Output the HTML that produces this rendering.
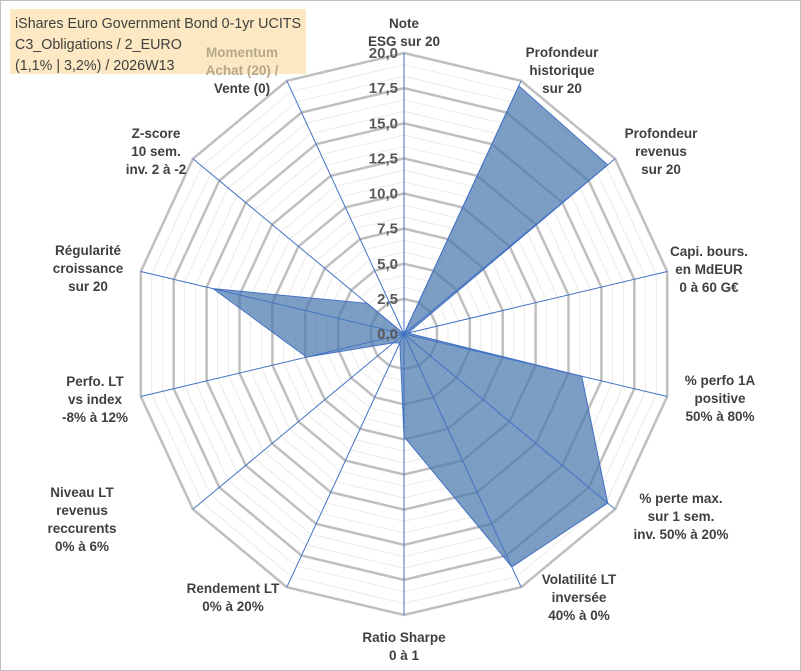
<!DOCTYPE html>
<html><head><meta charset="utf-8"><style>
html,body{margin:0;padding:0;background:#fff;}
#wrap{position:relative;width:801px;height:671px;overflow:hidden;}
svg text{font-family:"Liberation Sans",Arial,sans-serif;}
</style></head><body>
<div id="wrap">
<svg id="chart" width="801" height="671" viewBox="0 0 801 671">
<rect x="0.5" y="0.5" width="800" height="670" fill="#fff" stroke="#bfbfbf"/>
<rect x="10" y="9" width="296" height="65" fill="#fce9c3"/>
<g id="grid"></g>
<g id="series"></g>
<g id="ticks"></g>
<g font-size="14.3" fill="#404040">
<text x="15" y="28">iShares Euro Government Bond 0-1yr UCITS</text>
<text x="15" y="49">C3_Obligations / 2_EURO</text>
<text x="15" y="70">(1,1% | 3,2%) / 2026W13</text>
</g>
<g id="labels"></g>
</svg>
</div>
<script>
const categories = [
 ["Note","ESG sur 20"],
 ["Profondeur","historique","sur 20"],
 ["Profondeur","revenus","sur 20"],
 ["Capi. bours.","en MdEUR","0 à 60 G€"],
 ["% perfo 1A","positive","50% à 80%"],
 ["% perte max.","sur 1 sem.","inv. 50% à 20%"],
 ["Volatilité LT","inversée","40% à 0%"],
 ["Ratio Sharpe","0 à 1"],
 ["Rendement LT","0% à 20%"],
 ["Niveau LT","revenus","reccurents","0% à 6%"],
 ["Perfo. LT","vs index","-8% à 12%"],
 ["Régularité","croissance","sur 20"],
 ["Z-score","10 sem.","inv. 2 à -2"],
 ["Momentum","Achat (20) /","Vente (0)"]
];
const values = [0, 19.6, 19.3, 0.3, 13.5, 19.3, 18.4, 7.3, 0.7, 1.0, 7.4, 14.5, 3.5, 0];
const tickLabels = ["0,0","2,5","5,0","7,5","10,0","12,5","15,0","17,5","20,0"];
const tickValues = [0,2.5,5,7.5,10,12.5,15,17.5,20];
const maxV = 20;
const cx = 404, cy = 334, Rx = 270, Ry = 281;
// label anchor: center x, first baseline y
const labelX = [404,562,661,709,720,681,579,404,233,82,95,88,156,242];
const labelY = [28,57,138,256,385,503,584,642,593,497,386,255,138,57];
const ns = "http://www.w3.org/2000/svg";
const N = categories.length;
function ang(i){ return i*2*Math.PI/N; }
function px(i,v){ return cx + Math.sin(ang(i))*Rx*v/maxV; }
function py(i,v){ return cy - Math.cos(ang(i))*Ry*v/maxV; }
function mk(tag, attrs, parent){ const e=document.createElementNS(ns,tag); for(const k in attrs) e.setAttribute(k,attrs[k]); parent.appendChild(e); return e; }
const grid = document.getElementById('grid');
for(let k=1; k<24; k++){
  if(k%3===0) continue;
  const v=k*2.5/3;
  const pts=[]; for(let i=0;i<N;i++) pts.push(px(i,v).toFixed(1)+","+py(i,v).toFixed(1));
  const p=mk('polygon',{points:pts.join(' '),fill:'none',stroke:'#ebebeb','stroke-width':1},grid);
  
  
}
tickValues.forEach(v=>{
  if(v===0) return;
  const pts=[]; for(let i=0;i<N;i++) pts.push(px(i,v).toFixed(1)+","+py(i,v).toFixed(1));
  const p=mk('polygon',{points:pts.join(' '),fill:'none',stroke:'#bfbfbf','stroke-width':2.5},grid);
  
  
});
const ser = document.getElementById('series');
const spts=[]; for(let i=0;i<N;i++) spts.push(px(i,values[i]).toFixed(1)+","+py(i,values[i]).toFixed(1));
const poly=mk('polygon',{points:spts.join(' '),fill:'#4a78ad','fill-opacity':0.72,stroke:'#4472c4','stroke-width':1},ser);


for(let i=0;i<N;i++){
  const l=mk('line',{x1:cx,y1:cy,x2:px(i,maxV),y2:py(i,maxV),stroke:'#4472c4','stroke-width':1},ser);
  
  
}
const tk=document.getElementById('ticks');
tickValues.forEach((v,j)=>{
  const t=mk('text',{x:cx-6,y:py(0,v)+5,'text-anchor':'end','font-size':15,'font-weight':'bold',fill:'#595959'},tk);
  t.textContent=tickLabels[j];
  
  
});
const lab=document.getElementById('labels');
for(let i=0;i<N;i++){
  const lines=categories[i];
  const g=mk('text',{'text-anchor':'middle','font-size':13.5,'font-weight':'bold',fill:'#404040'},lab);
  
  
  lines.forEach((ln,k)=>{
    const ts=mk('tspan',{x:labelX[i],y:labelY[i]+k*18},g);
    ts.textContent=ln;
    if(i===13 && k<2) ts.setAttribute('fill','#b5a78a');
  });
}
</script>
</body></html>
